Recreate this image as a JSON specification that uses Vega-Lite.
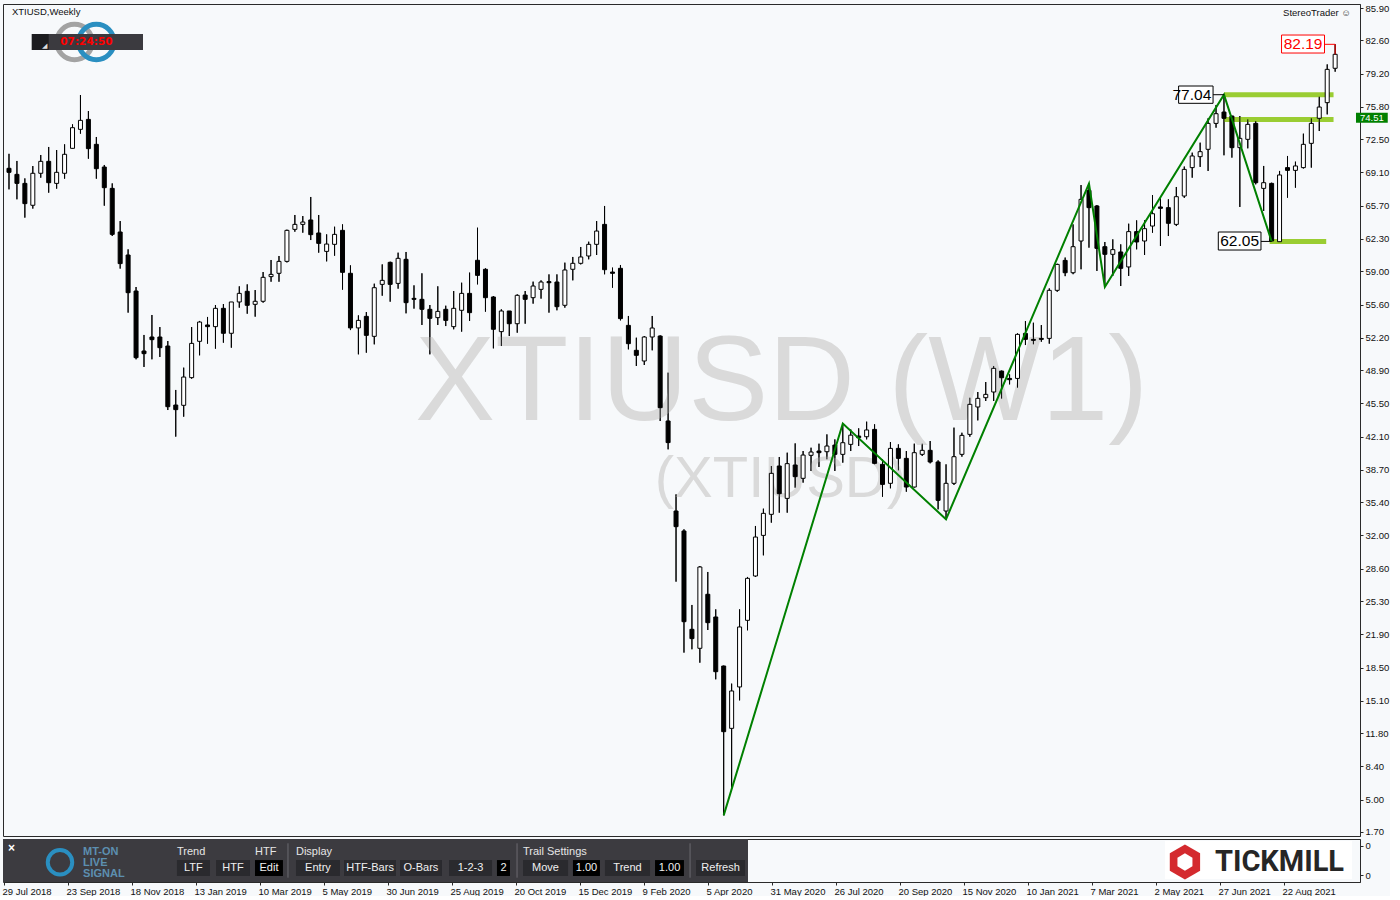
{
"$schema":"https://vega.github.io/schema/vega-lite/v6.json",
"background":"#f7f9fb",
"padding":{"left":1,"top":2,"right":0,"bottom":0},
"spacing":1,
"config":{"font":"Liberation Sans","view":{"stroke":"#2a2a2a","strokeWidth":1},"axis":{"grid":false,"labelFont":"Liberation Sans","labelFontSize":9.5,"labelColor":"#111111","domainColor":"#2a2a2a","tickColor":"#2a2a2a","tickSize":3,"labelOverlap":false}},
"datasets":{
"candles":[
{"d":"2018-07-29","o":69.52,"h":71.0,"l":67.37,"c":69.11},
{"d":"2018-08-05","o":68.90,"h":70.27,"l":66.35,"c":67.98},
{"d":"2018-08-12","o":67.98,"h":68.49,"l":64.48,"c":65.91},
{"d":"2018-08-19","o":65.74,"h":69.75,"l":65.40,"c":69.01},
{"d":"2018-08-26","o":69.01,"h":70.88,"l":68.56,"c":70.23},
{"d":"2018-09-02","o":70.23,"h":71.70,"l":67.03,"c":68.05},
{"d":"2018-09-09","o":67.98,"h":71.39,"l":67.44,"c":69.11},
{"d":"2018-09-16","o":69.01,"h":71.97,"l":68.46,"c":70.95},
{"d":"2018-09-23","o":71.56,"h":74.01,"l":71.56,"c":73.67},
{"d":"2018-09-30","o":73.50,"h":77.01,"l":73.06,"c":74.42},
{"d":"2018-10-07","o":74.52,"h":75.37,"l":70.50,"c":71.53},
{"d":"2018-10-14","o":71.97,"h":72.72,"l":68.46,"c":69.48},
{"d":"2018-10-21","o":69.65,"h":69.86,"l":65.70,"c":67.54},
{"d":"2018-10-28","o":67.47,"h":67.98,"l":62.60,"c":62.77},
{"d":"2018-11-04","o":63.01,"h":64.13,"l":59.27,"c":59.78},
{"d":"2018-11-11","o":60.66,"h":61.24,"l":54.77,"c":56.81},
{"d":"2018-11-18","o":56.98,"h":57.39,"l":50.00,"c":50.17},
{"d":"2018-11-25","o":50.85,"h":52.49,"l":49.22,"c":50.58},
{"d":"2018-12-02","o":52.28,"h":54.53,"l":50.00,"c":52.01},
{"d":"2018-12-09","o":52.28,"h":53.30,"l":50.24,"c":51.19},
{"d":"2018-12-16","o":51.36,"h":51.87,"l":44.82,"c":45.16},
{"d":"2018-12-23","o":45.33,"h":46.87,"l":42.10,"c":44.86},
{"d":"2018-12-30","o":45.30,"h":49.15,"l":44.14,"c":48.19},
{"d":"2019-01-06","o":48.13,"h":53.30,"l":48.02,"c":51.63},
{"d":"2019-01-13","o":51.84,"h":53.92,"l":50.41,"c":53.81},
{"d":"2019-01-20","o":53.51,"h":54.33,"l":51.60,"c":53.34},
{"d":"2019-01-27","o":53.34,"h":55.55,"l":51.09,"c":55.21},
{"d":"2019-02-03","o":55.21,"h":55.65,"l":51.70,"c":52.66},
{"d":"2019-02-10","o":52.66,"h":55.86,"l":51.19,"c":55.86},
{"d":"2019-02-17","o":55.86,"h":57.46,"l":55.28,"c":56.74},
{"d":"2019-02-24","o":56.95,"h":57.66,"l":54.66,"c":55.52},
{"d":"2019-03-03","o":55.62,"h":57.08,"l":54.36,"c":55.93},
{"d":"2019-03-10","o":55.93,"h":58.92,"l":55.79,"c":58.38},
{"d":"2019-03-17","o":58.45,"h":60.15,"l":57.93,"c":58.68},
{"d":"2019-03-24","o":58.79,"h":60.56,"l":57.93,"c":60.01},
{"d":"2019-03-31","o":60.01,"h":63.25,"l":59.90,"c":63.18},
{"d":"2019-04-07","o":63.28,"h":64.75,"l":63.04,"c":63.79},
{"d":"2019-04-14","o":63.79,"h":64.64,"l":62.94,"c":64.03},
{"d":"2019-04-21","o":64.24,"h":66.59,"l":62.19,"c":62.74},
{"d":"2019-04-28","o":62.91,"h":64.75,"l":60.90,"c":61.85},
{"d":"2019-05-05","o":61.03,"h":62.77,"l":60.01,"c":61.78},
{"d":"2019-05-12","o":61.75,"h":63.55,"l":60.59,"c":62.77},
{"d":"2019-05-19","o":63.18,"h":63.79,"l":57.12,"c":58.89},
{"d":"2019-05-26","o":58.79,"h":59.60,"l":52.99,"c":53.21},
{"d":"2019-06-02","o":53.21,"h":54.49,"l":50.51,"c":53.98},
{"d":"2019-06-09","o":54.39,"h":54.83,"l":50.68,"c":52.45},
{"d":"2019-06-16","o":52.35,"h":57.73,"l":51.53,"c":57.32},
{"d":"2019-06-23","o":57.66,"h":59.70,"l":56.50,"c":58.07},
{"d":"2019-06-30","o":59.91,"h":59.98,"l":55.89,"c":57.66},
{"d":"2019-07-07","o":57.76,"h":60.90,"l":57.22,"c":60.32},
{"d":"2019-07-14","o":60.22,"h":60.97,"l":54.70,"c":55.79},
{"d":"2019-07-21","o":56.23,"h":57.56,"l":55.18,"c":56.13},
{"d":"2019-07-28","o":56.13,"h":58.79,"l":53.51,"c":55.11},
{"d":"2019-08-04","o":55.11,"h":55.55,"l":50.51,"c":54.19},
{"d":"2019-08-11","o":54.26,"h":57.46,"l":53.51,"c":54.90},
{"d":"2019-08-18","o":55.11,"h":55.48,"l":53.40,"c":53.98},
{"d":"2019-08-25","o":53.34,"h":56.98,"l":53.07,"c":55.21},
{"d":"2019-09-01","o":55.01,"h":57.83,"l":52.83,"c":56.74},
{"d":"2019-09-08","o":56.74,"h":58.86,"l":53.92,"c":54.77},
{"d":"2019-09-15","o":60.12,"h":63.45,"l":57.66,"c":58.58},
{"d":"2019-09-22","o":59.20,"h":59.30,"l":54.87,"c":56.30},
{"d":"2019-09-29","o":56.37,"h":56.47,"l":51.12,"c":53.07},
{"d":"2019-10-06","o":52.83,"h":55.11,"l":51.36,"c":54.94},
{"d":"2019-10-13","o":54.94,"h":54.94,"l":52.38,"c":53.64},
{"d":"2019-10-20","o":53.64,"h":56.64,"l":52.72,"c":56.54},
{"d":"2019-10-27","o":56.57,"h":56.98,"l":53.64,"c":56.13},
{"d":"2019-11-03","o":56.30,"h":57.94,"l":55.69,"c":57.49},
{"d":"2019-11-10","o":57.15,"h":58.07,"l":56.20,"c":57.90},
{"d":"2019-11-17","o":57.94,"h":58.68,"l":54.77,"c":57.83},
{"d":"2019-11-24","o":57.90,"h":58.68,"l":55.01,"c":55.38},
{"d":"2019-12-01","o":55.52,"h":59.88,"l":55.28,"c":59.13},
{"d":"2019-12-08","o":59.20,"h":60.46,"l":58.07,"c":59.81},
{"d":"2019-12-15","o":59.81,"h":61.48,"l":59.70,"c":60.46},
{"d":"2019-12-22","o":60.56,"h":62.02,"l":60.22,"c":61.75},
{"d":"2019-12-29","o":61.75,"h":64.13,"l":60.66,"c":63.11},
{"d":"2020-01-05","o":63.79,"h":65.67,"l":58.69,"c":59.16},
{"d":"2020-01-12","o":58.92,"h":59.37,"l":57.32,"c":58.79},
{"d":"2020-01-19","o":59.30,"h":59.64,"l":53.98,"c":54.16},
{"d":"2020-01-26","o":53.47,"h":54.43,"l":51.02,"c":51.60},
{"d":"2020-02-02","o":50.92,"h":52.21,"l":49.32,"c":50.41},
{"d":"2020-02-09","o":49.83,"h":52.38,"l":49.42,"c":52.28},
{"d":"2020-02-16","o":52.28,"h":54.43,"l":50.92,"c":53.20},
{"d":"2020-02-23","o":52.38,"h":52.45,"l":43.70,"c":45.06},
{"d":"2020-03-01","o":43.70,"h":48.64,"l":40.80,"c":41.49},
{"d":"2020-03-08","o":34.50,"h":36.20,"l":27.28,"c":32.90},
{"d":"2020-03-15","o":32.46,"h":32.63,"l":20.03,"c":23.19},
{"d":"2020-03-22","o":22.41,"h":24.90,"l":20.37,"c":21.46},
{"d":"2020-03-29","o":20.47,"h":28.88,"l":19.00,"c":28.78},
{"d":"2020-04-05","o":25.99,"h":28.27,"l":22.34,"c":23.09},
{"d":"2020-04-12","o":23.67,"h":24.45,"l":17.30,"c":18.08},
{"d":"2020-04-19","o":18.66,"h":18.70,"l":3.40,"c":11.95},
{"d":"2020-04-26","o":12.29,"h":16.86,"l":6.23,"c":16.11},
{"d":"2020-05-03","o":16.52,"h":24.45,"l":15.15,"c":22.65},
{"d":"2020-05-10","o":23.33,"h":27.76,"l":22.31,"c":27.62},
{"d":"2020-05-17","o":27.86,"h":32.97,"l":27.76,"c":31.84},
{"d":"2020-05-24","o":32.01,"h":34.74,"l":29.97,"c":34.26},
{"d":"2020-05-31","o":34.16,"h":39.10,"l":33.31,"c":38.35},
{"d":"2020-06-07","o":39.10,"h":40.02,"l":34.33,"c":36.27},
{"d":"2020-06-14","o":35.79,"h":40.46,"l":34.33,"c":39.34},
{"d":"2020-06-21","o":39.20,"h":41.41,"l":36.88,"c":38.01},
{"d":"2020-06-28","o":37.84,"h":40.63,"l":37.40,"c":40.22},
{"d":"2020-07-05","o":40.19,"h":40.97,"l":38.59,"c":40.53},
{"d":"2020-07-12","o":40.63,"h":41.38,"l":39.00,"c":40.46},
{"d":"2020-07-19","o":40.56,"h":42.33,"l":39.78,"c":41.14},
{"d":"2020-07-26","o":41.24,"h":41.82,"l":38.59,"c":40.29},
{"d":"2020-08-02","o":40.29,"h":43.44,"l":39.44,"c":41.48},
{"d":"2020-08-09","o":41.31,"h":42.84,"l":40.63,"c":42.25},
{"d":"2020-08-16","o":42.16,"h":42.95,"l":41.14,"c":41.99},
{"d":"2020-08-23","o":42.09,"h":43.63,"l":41.82,"c":42.78},
{"d":"2020-08-30","o":42.84,"h":43.36,"l":39.27,"c":39.37},
{"d":"2020-09-06","o":39.27,"h":39.78,"l":35.96,"c":37.22},
{"d":"2020-09-13","o":37.33,"h":41.55,"l":36.82,"c":40.90},
{"d":"2020-09-20","o":40.90,"h":41.31,"l":38.65,"c":39.88},
{"d":"2020-09-27","o":39.88,"h":40.63,"l":36.47,"c":36.95},
{"d":"2020-10-04","o":36.95,"h":41.38,"l":36.90,"c":40.46},
{"d":"2020-10-11","o":40.29,"h":41.38,"l":40.12,"c":40.70},
{"d":"2020-10-18","o":40.70,"h":41.65,"l":39.37,"c":39.51},
{"d":"2020-10-25","o":39.51,"h":39.68,"l":34.67,"c":35.59},
{"d":"2020-11-01","o":34.50,"h":39.27,"l":33.65,"c":37.33},
{"d":"2020-11-08","o":37.33,"h":43.02,"l":37.16,"c":40.05},
{"d":"2020-11-15","o":40.29,"h":42.50,"l":40.05,"c":42.23},
{"d":"2020-11-22","o":42.33,"h":46.08,"l":42.09,"c":45.40},
{"d":"2020-11-29","o":45.13,"h":46.66,"l":43.76,"c":46.01},
{"d":"2020-12-06","o":46.08,"h":47.68,"l":45.74,"c":46.42},
{"d":"2020-12-13","o":46.66,"h":49.32,"l":45.74,"c":49.08},
{"d":"2020-12-20","o":48.80,"h":48.85,"l":45.98,"c":48.12},
{"d":"2020-12-27","o":48.05,"h":48.46,"l":47.44,"c":47.92},
{"d":"2021-01-03","o":48.05,"h":52.65,"l":47.10,"c":52.55},
{"d":"2021-01-10","o":52.65,"h":53.91,"l":51.46,"c":52.04},
{"d":"2021-01-17","o":52.04,"h":53.74,"l":51.53,"c":51.94},
{"d":"2021-01-24","o":52.14,"h":53.50,"l":51.80,"c":52.04},
{"d":"2021-01-31","o":52.14,"h":57.25,"l":51.60,"c":57.05},
{"d":"2021-02-07","o":57.05,"h":59.77,"l":56.90,"c":59.70},
{"d":"2021-02-14","o":60.11,"h":60.40,"l":58.50,"c":58.85},
{"d":"2021-02-21","o":58.85,"h":63.79,"l":58.70,"c":61.51},
{"d":"2021-02-28","o":62.09,"h":67.81,"l":59.20,"c":66.35},
{"d":"2021-03-07","o":67.27,"h":67.95,"l":61.41,"c":65.50},
{"d":"2021-03-14","o":65.67,"h":65.77,"l":59.03,"c":61.34},
{"d":"2021-03-21","o":61.51,"h":61.99,"l":57.39,"c":60.73},
{"d":"2021-03-28","o":60.73,"h":62.26,"l":58.52,"c":61.21},
{"d":"2021-04-04","o":60.97,"h":61.75,"l":57.49,"c":59.30},
{"d":"2021-04-11","o":59.44,"h":63.86,"l":58.52,"c":63.05},
{"d":"2021-04-18","o":63.05,"h":64.20,"l":61.24,"c":61.99},
{"d":"2021-04-25","o":62.09,"h":64.20,"l":60.66,"c":63.35},
{"d":"2021-05-02","o":63.62,"h":66.79,"l":62.94,"c":64.88},
{"d":"2021-05-09","o":65.57,"h":66.45,"l":61.58,"c":65.43},
{"d":"2021-05-16","o":65.50,"h":66.35,"l":62.60,"c":63.90},
{"d":"2021-05-23","o":63.79,"h":67.61,"l":63.62,"c":66.62},
{"d":"2021-05-30","o":66.69,"h":69.70,"l":66.50,"c":69.41},
{"d":"2021-06-06","o":69.59,"h":71.12,"l":68.56,"c":70.78},
{"d":"2021-06-13","o":70.71,"h":72.14,"l":69.66,"c":71.22},
{"d":"2021-06-20","o":71.46,"h":74.63,"l":69.25,"c":74.11},
{"d":"2021-06-27","o":74.11,"h":75.99,"l":73.67,"c":75.10},
{"d":"2021-07-04","o":75.27,"h":77.04,"l":70.85,"c":74.63},
{"d":"2021-07-11","o":74.86,"h":74.90,"l":70.61,"c":71.63},
{"d":"2021-07-18","o":71.63,"h":74.86,"l":65.57,"c":72.58},
{"d":"2021-07-25","o":72.48,"h":74.52,"l":71.56,"c":74.01},
{"d":"2021-08-01","o":74.11,"h":74.35,"l":67.88,"c":68.05},
{"d":"2021-08-08","o":67.47,"h":69.76,"l":65.16,"c":68.05},
{"d":"2021-08-15","o":67.98,"h":68.05,"l":62.05,"c":62.09},
{"d":"2021-08-22","o":62.02,"h":69.25,"l":62.02,"c":68.84},
{"d":"2021-08-29","o":69.59,"h":70.78,"l":66.52,"c":69.31},
{"d":"2021-09-05","o":69.31,"h":70.20,"l":67.54,"c":69.76},
{"d":"2021-09-12","o":69.59,"h":73.06,"l":69.50,"c":71.97},
{"d":"2021-09-19","o":72.07,"h":74.63,"l":69.59,"c":74.11},
{"d":"2021-09-26","o":74.63,"h":76.84,"l":73.33,"c":75.78},
{"d":"2021-10-03","o":76.23,"h":80.14,"l":75.03,"c":79.63},
{"d":"2021-10-10","o":79.74,"h":82.19,"l":79.39,"c":81.17}
],
"zigzag":[
{"d":"2020-04-19","v":3.40},{"d":"2020-08-02","v":43.44},{"d":"2020-11-01","v":33.65},{"d":"2021-03-07","v":67.95},{"d":"2021-03-21","v":57.39},{"d":"2021-07-04","v":77.04},{"d":"2021-08-15","v":62.05}
],
"levels":[
{"d":"2021-07-04","d2":"2021-10-08T14:00:00Z","v":77.04},
{"d":"2021-07-04","d2":"2021-10-08T14:00:00Z","v":74.51},
{"d":"2021-08-13T06:00:00Z","d2":"2021-10-02T03:00:00Z","v":62.05}
],
"boxes":[
{"d":"2021-05-25T00:00:00Z","d2":"2021-06-24T09:00:00Z","v":77.93,"v2":76.16,"dt":"2021-06-05T17:00:00Z","vt":77.04,"t":"77.04"},
{"d":"2021-06-29T00:00:00Z","d2":"2021-08-05T15:00:00Z","v":63.01,"v2":61.17,"dt":"2021-07-17T19:00:00Z","vt":62.09,"t":"62.05"}
],
"connectors":[
{"d":"2021-06-24T09:00:00Z","d2":"2021-07-04","v":77.04},
{"d":"2021-08-05T15:00:00Z","d2":"2021-08-15","v":62.05}
],
"redbox":[{"d":"2021-08-23T18:00:00Z","d2":"2021-09-30T15:00:00Z","v":83.14,"v2":81.30,"dt":"2021-09-11T17:00:00Z","vt":82.22,"t":"82.19"}],
"redline":[{"d":"2021-09-30T15:00:00Z","v":82.19,"k":0},{"d":"2021-10-10","v":82.19,"k":1},{"d":"2021-10-10","v":81.17,"k":2}],
"tag":[{"d":"2021-10-28T09:00:00Z","d2":"2021-11-25T09:00:00Z","v":75.20,"v2":74.18,"dt":"2021-11-11T09:00:00Z","vt":74.69,"t":"74.51"}],
"tbBtn":[
{"p":12.82,"p2":15.25,"pc":14.03,"t":"LTF"},{"p":15.70,"p2":18.20,"pc":16.95,"t":"HTF"},
{"p":21.59,"p2":24.83,"pc":23.21,"t":"Entry"},{"p":25.13,"p2":28.96,"pc":27.05,"t":"HTF-Bars"},
{"p":29.26,"p2":32.35,"pc":30.80,"t":"O-Bars"},{"p":32.87,"p2":36.04,"pc":34.45,"t":"1-2-3"},
{"p":38.32,"p2":41.64,"pc":39.98,"t":"Move"},{"p":44.36,"p2":47.68,"pc":46.02,"t":"Trend"},
{"p":51.07,"p2":54.68,"pc":52.88,"t":"Refresh"}
],
"tbBlack":[
{"p":18.57,"p2":20.63,"pc":19.60,"t":"Edit"},{"p":36.40,"p2":37.36,"pc":36.88,"t":"2"},
{"p":42.00,"p2":43.99,"pc":43.00,"t":"1.00"},{"p":48.05,"p2":50.18,"pc":49.12,"t":"1.00"}
],
"tbHead":[{"p":12.82,"t":"Trend"},{"p":18.57,"t":"HTF"},{"p":21.59,"t":"Display"},{"p":38.32,"t":"Trail Settings"}],
"tbLogo":[{"p":5.9,"yy":0.70,"t":"MT-ON"},{"p":5.9,"yy":0.44,"t":"LIVE"},{"p":5.9,"yy":0.19,"t":"SIGNAL"}]
},
"vconcat":[
{
"width":1357,"height":832,
"layer":[
{"data":{"name":"candles"},"mark":{"type":"rule","color":"#000000","strokeWidth":1,"clip":true},
 "encoding":{"x":{"field":"d","type":"temporal","scale":{"type":"utc","domain":[1532746800000,1635336000000]},"axis":null},"y":{"field":"l","type":"quantitative","scale":{"domain":[1.29,86.31],"nice":false,"zero":false},"title":null,
   "axis":{"orient":"right","values":[85.9,82.6,79.2,75.8,72.5,69.1,65.7,62.3,59.0,55.6,52.2,48.9,45.5,42.1,38.7,35.4,32.0,28.6,25.3,21.9,18.5,15.1,11.8,8.4,5.0,1.7],"tickCount":60,"format":".2f","tickSize":3,"labelPadding":2,"title":null,"labelFontSize":9.5,"labelFlush":false,"labelOverlap":false}},
  "y2":{"field":"h"}}},
{"data":{"values":[{"d":"2020-06-09","v":43.8,"t":"XTIUSD (W1)"}]},"mark":{"type":"text","fontSize":120,"color":"#dadada","align":"center","baseline":"alphabetic"},
 "encoding":{"x":{"field":"d","type":"temporal","scale":{"type":"utc","domain":[1532746800000,1635336000000]},"axis":null},"y":{"field":"v","type":"quantitative","scale":{"domain":[1.29,86.31],"nice":false,"zero":false},"title":null},"text":{"field":"t"}}},
{"data":{"values":[{"d":"2020-06-08","v":35.9,"t":"(XTIUSD)"}]},"mark":{"type":"text","fontSize":58,"color":"#dadada","align":"center","baseline":"alphabetic"},
 "encoding":{"x":{"field":"d","type":"temporal","scale":{"type":"utc","domain":[1532746800000,1635336000000]},"axis":null},"y":{"field":"v","type":"quantitative","scale":{"domain":[1.29,86.31],"nice":false,"zero":false},"title":null},"text":{"field":"t"}}},
{"data":{"values":[{"d":"2018-09-24T18:00:00Z","v":82.43}]},"mark":{"type":"point","filled":false,"stroke":"#a3a3a3","strokeWidth":5,"size":1257,"opacity":1},
 "encoding":{"x":{"field":"d","type":"temporal","scale":{"type":"utc","domain":[1532746800000,1635336000000]},"axis":null},"y":{"field":"v","type":"quantitative","scale":{"domain":[1.29,86.31],"nice":false,"zero":false},"title":null}}},
{"data":{"values":[{"d":"2018-10-14","v":82.43}]},"mark":{"type":"point","filled":false,"stroke":"#2a8fc1","strokeWidth":5,"size":1257,"opacity":1},
 "encoding":{"x":{"field":"d","type":"temporal","scale":{"type":"utc","domain":[1532746800000,1635336000000]},"axis":null},"y":{"field":"v","type":"quantitative","scale":{"domain":[1.29,86.31],"nice":false,"zero":false},"title":null}}},
{"data":{"values":[{"d":"2018-08-18T03:00:00Z","d2":"2018-11-24T03:00:00Z","v":83.24,"v2":81.61}]},"mark":{"type":"rect","fill":"#3b3a3f"},
 "encoding":{"x":{"field":"d","type":"temporal","scale":{"type":"utc","domain":[1532746800000,1635336000000]},"axis":null},"x2":{"field":"d2"},"y":{"field":"v","type":"quantitative","scale":{"domain":[1.29,86.31],"nice":false,"zero":false},"title":null},"y2":{"field":"v2"}}},
{"data":{"values":[{"d":"2018-08-18T03:00:00Z","d2":"2018-09-02","v":83.24,"v2":81.61}]},"mark":{"type":"rect","fill":"#1c1c1f"},
 "encoding":{"x":{"field":"d","type":"temporal","scale":{"type":"utc","domain":[1532746800000,1635336000000]},"axis":null},"x2":{"field":"d2"},"y":{"field":"v","type":"quantitative","scale":{"domain":[1.29,86.31],"nice":false,"zero":false},"title":null},"y2":{"field":"v2"}}},
{"data":{"values":[{"d":"2018-08-29","v":82.05,"t":"◢"}]},"mark":{"type":"text","fontSize":7,"color":"#dddddd","align":"center","baseline":"middle"},
 "encoding":{"x":{"field":"d","type":"temporal","scale":{"type":"utc","domain":[1532746800000,1635336000000]},"axis":null},"y":{"field":"v","type":"quantitative","scale":{"domain":[1.29,86.31],"nice":false,"zero":false},"title":null},"text":{"field":"t"}}},
{"data":{"values":[{"d":"2018-10-05T06:00:00Z","v":82.43,"t":"07:24:50"}]},"mark":{"type":"text","fontSize":10.5,"fontWeight":"bold","font":"DejaVu Sans","color":"#ff0000","align":"center","baseline":"middle"},
 "encoding":{"x":{"field":"d","type":"temporal","scale":{"type":"utc","domain":[1532746800000,1635336000000]},"axis":null},"y":{"field":"v","type":"quantitative","scale":{"domain":[1.29,86.31],"nice":false,"zero":false},"title":null},"text":{"field":"t"}}},
{"data":{"values":[{"d":"2018-07-31T15:00:00Z","v":85.49,"t":"XTIUSD,Weekly"}]},"mark":{"type":"text","fontSize":9.5,"color":"#111111","align":"left","baseline":"middle"},
 "encoding":{"x":{"field":"d","type":"temporal","scale":{"type":"utc","domain":[1532746800000,1635336000000]},"axis":null},"y":{"field":"v","type":"quantitative","scale":{"domain":[1.29,86.31],"nice":false,"zero":false},"title":null},"text":{"field":"t"}}},
{"data":{"values":[{"d":"2021-10-24","v":85.39,"t":"StereoTrader ☺"}]},"mark":{"type":"text","fontSize":9.5,"color":"#111111","align":"right","baseline":"middle"},
 "encoding":{"x":{"field":"d","type":"temporal","scale":{"type":"utc","domain":[1532746800000,1635336000000]},"axis":null},"y":{"field":"v","type":"quantitative","scale":{"domain":[1.29,86.31],"nice":false,"zero":false},"title":null},"text":{"field":"t"}}},
{"data":{"name":"levels"},"mark":{"type":"rule","color":"#9acd32","strokeWidth":5},
 "encoding":{"x":{"field":"d","type":"temporal","scale":{"type":"utc","domain":[1532746800000,1635336000000]},"axis":null},"x2":{"field":"d2"},"y":{"field":"v","type":"quantitative","scale":{"domain":[1.29,86.31],"nice":false,"zero":false},"title":null}}},
{"data":{"name":"candles"},"mark":{"type":"rule","color":"#000000","strokeWidth":1,"clip":true},
 "encoding":{"x":{"field":"d","type":"temporal","scale":{"type":"utc","domain":[1532746800000,1635336000000]},"axis":null},"y":{"field":"l","type":"quantitative","scale":{"domain":[1.29,86.31],"nice":false,"zero":false},"title":null},"y2":{"field":"h"}}},
{"data":{"name":"candles"},"mark":{"type":"bar","width":4,"stroke":"#000000","strokeWidth":1,"clip":true},
 "encoding":{"x":{"field":"d","type":"temporal","scale":{"type":"utc","domain":[1532746800000,1635336000000]},"axis":null},"y":{"field":"o","type":"quantitative","scale":{"domain":[1.29,86.31],"nice":false,"zero":false},"title":null},"y2":{"field":"c"},
  "fill":{"condition":{"test":"datum.c >= datum.o","value":"#ffffff"},"value":"#000000"}}},
{"mark":{"type":"rule","color":"#007400","strokeWidth":2},
 "encoding":{"y":{"datum":74.51,"type":"quantitative","scale":{"domain":[1.29,86.31],"nice":false,"zero":false},"title":null}}},
{"data":{"name":"zigzag"},"mark":{"type":"line","color":"#008000","strokeWidth":2},
 "encoding":{"x":{"field":"d","type":"temporal","scale":{"type":"utc","domain":[1532746800000,1635336000000]},"axis":null},"y":{"field":"v","type":"quantitative","scale":{"domain":[1.29,86.31],"nice":false,"zero":false},"title":null}}},
{"data":{"name":"connectors"},"mark":{"type":"rule","color":"#000000","strokeWidth":1},
 "encoding":{"x":{"field":"d","type":"temporal","scale":{"type":"utc","domain":[1532746800000,1635336000000]},"axis":null},"x2":{"field":"d2"},"y":{"field":"v","type":"quantitative","scale":{"domain":[1.29,86.31],"nice":false,"zero":false},"title":null}}},
{"data":{"name":"boxes"},"mark":{"type":"rect","fill":"#ffffff","stroke":"#000000","strokeWidth":1},
 "encoding":{"x":{"field":"d","type":"temporal","scale":{"type":"utc","domain":[1532746800000,1635336000000]},"axis":null},"x2":{"field":"d2"},"y":{"field":"v","type":"quantitative","scale":{"domain":[1.29,86.31],"nice":false,"zero":false},"title":null},"y2":{"field":"v2"}}},
{"data":{"name":"boxes"},"mark":{"type":"text","fontSize":15.5,"color":"#000000","align":"center","baseline":"middle"},
 "encoding":{"x":{"field":"dt","type":"temporal","scale":{"type":"utc","domain":[1532746800000,1635336000000]},"axis":null},"y":{"field":"vt","type":"quantitative","scale":{"domain":[1.29,86.31],"nice":false,"zero":false},"title":null},"text":{"field":"t"}}},
{"data":{"name":"redline"},"mark":{"type":"line","color":"#ff0000","strokeWidth":1},
 "encoding":{"x":{"field":"d","type":"temporal","scale":{"type":"utc","domain":[1532746800000,1635336000000]},"axis":null},"y":{"field":"v","type":"quantitative","scale":{"domain":[1.29,86.31],"nice":false,"zero":false},"title":null},"order":{"field":"k"}}},
{"data":{"name":"redbox"},"mark":{"type":"rect","fill":"#ffffff","stroke":"#ff0000","strokeWidth":1},
 "encoding":{"x":{"field":"d","type":"temporal","scale":{"type":"utc","domain":[1532746800000,1635336000000]},"axis":null},"x2":{"field":"d2"},"y":{"field":"v","type":"quantitative","scale":{"domain":[1.29,86.31],"nice":false,"zero":false},"title":null},"y2":{"field":"v2"}}},
{"data":{"name":"redbox"},"mark":{"type":"text","fontSize":15.5,"color":"#ff0000","align":"center","baseline":"middle"},
 "encoding":{"x":{"field":"dt","type":"temporal","scale":{"type":"utc","domain":[1532746800000,1635336000000]},"axis":null},"y":{"field":"vt","type":"quantitative","scale":{"domain":[1.29,86.31],"nice":false,"zero":false},"title":null},"text":{"field":"t"}}},
{"data":{"name":"tag"},"mark":{"type":"rect","fill":"#008000"},
 "encoding":{"x":{"field":"d","type":"temporal","scale":{"type":"utc","domain":[1532746800000,1635336000000]},"axis":null},"x2":{"field":"d2"},"y":{"field":"v","type":"quantitative","scale":{"domain":[1.29,86.31],"nice":false,"zero":false},"title":null},"y2":{"field":"v2"}}},
{"data":{"name":"tag"},"mark":{"type":"text","fontSize":9.5,"color":"#ffffff","align":"center","baseline":"middle"},
 "encoding":{"x":{"field":"dt","type":"temporal","scale":{"type":"utc","domain":[1532746800000,1635336000000]},"axis":null},"y":{"field":"vt","type":"quantitative","scale":{"domain":[1.29,86.31],"nice":false,"zero":false},"title":null},"text":{"field":"t"}}}
]
},
{
"width":1357,"height":43,
"resolve":{"scale":{"x":"independent"}},
"layer":[
{"data":{"name":"candles"},"mark":{"type":"point","opacity":0,"size":0},
 "encoding":{"x":{"field":"d","type":"temporal","title":null,"scale":{"type":"utc","domain":[1532746800000,1635336000000]},
   "axis":{"orient":"bottom","title":null,"values":[1532822400000,1537660800000,1542499200000,1547337600000,1552176000000,1557014400000,1561852800000,1566691200000,1571529600000,1576368000000,1581206400000,1586044800000,1590883200000,1595721600000,1600560000000,1605398400000,1610236800000,1615075200000,1619913600000,1624752000000,1629590400000],
   "tickCount":60,"labelExpr":"utcFormat(datum.value, '%-d %b %Y')","labelAlign":"left","labelOffset":-2,"labelPadding":1,"tickSize":3,"labelFlush":false,"labelOverlap":false,"labelBound":false,"labelFontSize":9.5,"domain":false}},
  "y":{"datum":0.5,"type":"quantitative","title":null,"scale":{"domain":[0,1],"nice":false,"zero":false},"axis":{"orient":"right","title":null,"values":[0.84,0.16],"labelExpr":"'0'","tickSize":3,"labelPadding":2,"labelFlush":false,"labelOverlap":false}}}},
{"data":{"values":[{"p":0,"p2":54.9}]},"mark":{"type":"rect","fill":"#3c3b40"},
 "encoding":{"x":{"field":"p","type":"quantitative","scale":{"domain":[0,100],"nice":false,"zero":false},"axis":null},"x2":{"field":"p2"},"y":{"datum":0,"type":"quantitative","title":null,"scale":{"domain":[0,1],"nice":false,"zero":false}},"y2":{"datum":1}}},
{"data":{"values":[{"p":21.0},{"p":37.88},{"p":50.63}]},"mark":{"type":"rule","color":"#6b6a70","strokeWidth":1},
 "encoding":{"x":{"field":"p","type":"quantitative","scale":{"domain":[0,100],"nice":false,"zero":false},"axis":null},"y":{"datum":0.1,"type":"quantitative","title":null,"scale":{"domain":[0,1],"nice":false,"zero":false}},"y2":{"datum":0.9}}},
{"data":{"name":"tbBtn"},"mark":{"type":"rect","fill":"#2a2a2e"},
 "encoding":{"x":{"field":"p","type":"quantitative","scale":{"domain":[0,100],"nice":false,"zero":false},"axis":null},"x2":{"field":"p2"},"y":{"datum":0.14,"type":"quantitative","title":null,"scale":{"domain":[0,1],"nice":false,"zero":false}},"y2":{"datum":0.51}}},
{"data":{"name":"tbBlack"},"mark":{"type":"rect","fill":"#000000"},
 "encoding":{"x":{"field":"p","type":"quantitative","scale":{"domain":[0,100],"nice":false,"zero":false},"axis":null},"x2":{"field":"p2"},"y":{"datum":0.14,"type":"quantitative","title":null,"scale":{"domain":[0,1],"nice":false,"zero":false}},"y2":{"datum":0.51}}},
{"data":{"name":"tbBtn"},"mark":{"type":"text","fontSize":11,"color":"#f0f0f0","align":"center","baseline":"middle"},
 "encoding":{"x":{"field":"pc","type":"quantitative","scale":{"domain":[0,100],"nice":false,"zero":false},"axis":null},"y":{"datum":0.33,"type":"quantitative","title":null,"scale":{"domain":[0,1],"nice":false,"zero":false}},"text":{"field":"t"}}},
{"data":{"name":"tbBlack"},"mark":{"type":"text","fontSize":11,"color":"#f0f0f0","align":"center","baseline":"middle"},
 "encoding":{"x":{"field":"pc","type":"quantitative","scale":{"domain":[0,100],"nice":false,"zero":false},"axis":null},"y":{"datum":0.33,"type":"quantitative","title":null,"scale":{"domain":[0,1],"nice":false,"zero":false}},"text":{"field":"t"}}},
{"data":{"name":"tbHead"},"mark":{"type":"text","fontSize":11,"color":"#e6e6e6","align":"left","baseline":"middle"},
 "encoding":{"x":{"field":"p","type":"quantitative","scale":{"domain":[0,100],"nice":false,"zero":false},"axis":null},"y":{"datum":0.70,"type":"quantitative","title":null,"scale":{"domain":[0,1],"nice":false,"zero":false}},"text":{"field":"t"}}},
{"data":{"values":[{"p":0.37,"t":"×"}]},"mark":{"type":"text","fontSize":12,"fontWeight":"bold","color":"#ffffff","align":"left","baseline":"middle"},
 "encoding":{"x":{"field":"p","type":"quantitative","scale":{"domain":[0,100],"nice":false,"zero":false},"axis":null},"y":{"datum":0.79,"type":"quantitative","title":null,"scale":{"domain":[0,1],"nice":false,"zero":false}},"text":{"field":"t"}}},
{"data":{"values":[{"p":4.2}]},"mark":{"type":"point","filled":false,"stroke":"#2a8fc1","strokeWidth":4,"size":600,"opacity":1},
 "encoding":{"x":{"field":"p","type":"quantitative","scale":{"domain":[0,100],"nice":false,"zero":false},"axis":null},"y":{"datum":0.46,"type":"quantitative","title":null,"scale":{"domain":[0,1],"nice":false,"zero":false}}}},
{"data":{"name":"tbLogo"},"mark":{"type":"text","fontSize":11,"fontWeight":"bold","color":"#5c8fb0","align":"left","baseline":"middle","letterSpacing":1},
 "encoding":{"x":{"field":"p","type":"quantitative","scale":{"domain":[0,100],"nice":false,"zero":false},"axis":null},"y":{"field":"yy","type":"quantitative","title":null,"scale":{"domain":[0,1],"nice":false,"zero":false}},"text":{"field":"t"}}},
{"data":{"values":[{"p":85.63,"p2":99.41}]},"mark":{"type":"rect","fill":"#ffffff"},
 "encoding":{"x":{"field":"p","type":"quantitative","scale":{"domain":[0,100],"nice":false,"zero":false},"axis":null},"x2":{"field":"p2"},"y":{"datum":0.07,"type":"quantitative","title":null,"scale":{"domain":[0,1],"nice":false,"zero":false}},"y2":{"datum":0.953}}},
{"data":{"values":[{"p":87.1}]},"mark":{"type":"point","filled":true,"fill":"#d42a2e","shape":"M0,-1L0.866,-0.5L0.866,0.5L0,1L-0.866,0.5L-0.866,-0.5Z","size":1225,"opacity":1},
 "encoding":{"x":{"field":"p","type":"quantitative","scale":{"domain":[0,100],"nice":false,"zero":false},"axis":null},"y":{"datum":0.465,"type":"quantitative","title":null,"scale":{"domain":[0,1],"nice":false,"zero":false}}}},
{"data":{"values":[{"p":87.1}]},"mark":{"type":"point","filled":true,"fill":"#ffffff","shape":"M0,-1L0.866,-0.5L0.866,0.5L0,1L-0.866,0.5L-0.866,-0.5Z","size":300,"opacity":1},
 "encoding":{"x":{"field":"p","type":"quantitative","scale":{"domain":[0,100],"nice":false,"zero":false},"axis":null},"y":{"datum":0.465,"type":"quantitative","title":null,"scale":{"domain":[0,1],"nice":false,"zero":false}}}},
{"data":{"values":[{"p":89.31,"t":"TICKMILL"}]},"mark":{"type":"text","font":"Roboto","fontSize":29,"fontWeight":"bold","color":"#262626","align":"left","baseline":"middle"},
 "encoding":{"x":{"field":"p","type":"quantitative","scale":{"domain":[0,100],"nice":false,"zero":false},"axis":null},"y":{"datum":0.46,"type":"quantitative","title":null,"scale":{"domain":[0,1],"nice":false,"zero":false}},"text":{"field":"t"}}}
]
}
]
}
